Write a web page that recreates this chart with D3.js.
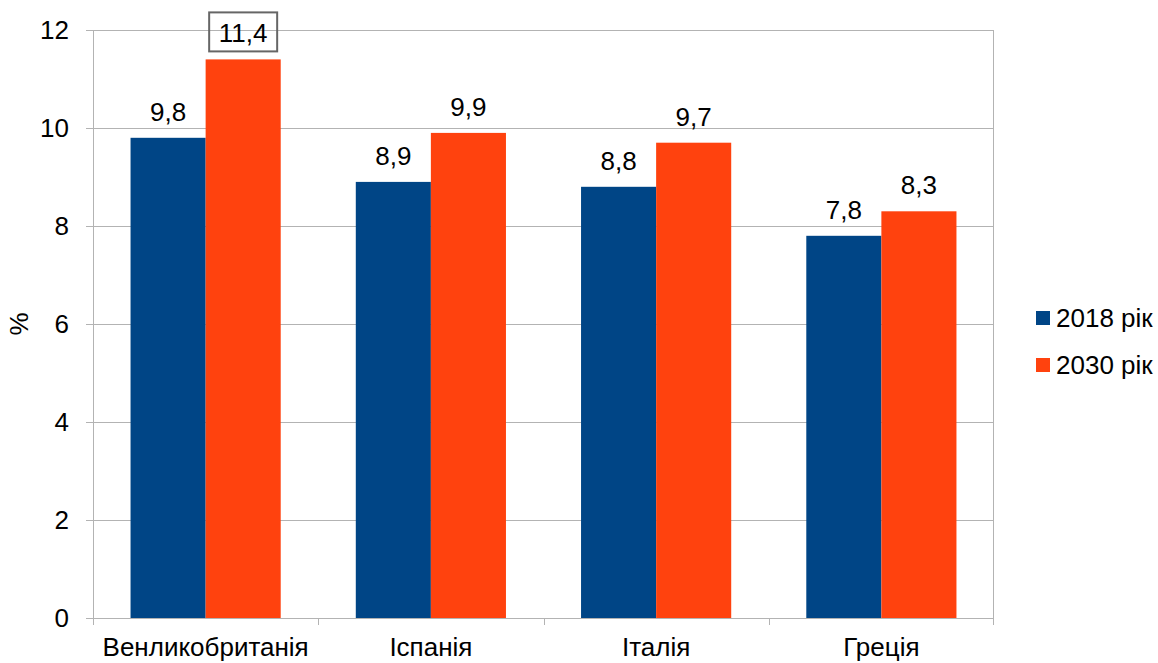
<!DOCTYPE html>
<html><head><meta charset="utf-8">
<script src="https://cdn.jsdelivr.net/npm/d3@7"></script>
<style>
html,body{margin:0;padding:0;background:#fff;}
svg text{font-family:"Liberation Sans",Arial,sans-serif;fill:#000;}
</style></head>
<body><svg id="c" width="1158" height="663"></svg>
<script>
const categories = ["Венликобританія","Іспанія","Італія","Греція"];
const seriesNames = ["2018 рік","2030 рік"];
const values2018 = [9.8, 8.9, 8.8, 7.8];
const values2030 = [11.4, 9.9, 9.7, 8.3];
const yTicks = [0,2,4,6,8,10,12];
const colors = ["#004586","#ff420e"];

const svg = d3.select("#c");
const L=93, R=994, T=30, B=618;
const x = d3.scaleBand().domain(categories).range([L,R]).paddingInner(0).paddingOuter(0);
const y = d3.scaleLinear().domain([0,12]).range([B,T]);
const sub = d3.scaleBand().domain(seriesNames).range([0,x.bandwidth()]).paddingInner(0).paddingOuter(0.5);
const fs = 26;

// grid
svg.append("g").selectAll("line").data(yTicks).join("line")
  .attr("x1",L-7).attr("x2",R).attr("y1",d=>y(d)+0.5).attr("y2",d=>y(d)+0.5)
  .attr("stroke","#b3b3b3").attr("stroke-width",1);
// y axis line & right border
svg.append("line").attr("x1",L+0.5).attr("x2",L+0.5).attr("y1",T).attr("y2",B+7).attr("stroke","#b3b3b3");
svg.append("line").attr("x1",R-0.5).attr("x2",R-0.5).attr("y1",T).attr("y2",B+7).attr("stroke","#b3b3b3");
// category boundary ticks
const bounds = categories.slice(1).map(c=>x(c));
svg.append("g").selectAll("line").data(bounds).join("line")
  .attr("x1",d=>Math.round(d)+0.5).attr("x2",d=>Math.round(d)+0.5).attr("y1",B).attr("y2",B+7)
  .attr("stroke","#b3b3b3");

// y tick labels
svg.append("g").selectAll("text").data(yTicks).join("text")
  .attr("x",69).attr("y",d=>y(d)+9).attr("text-anchor","end").attr("font-size",fs).text(d=>d);

// y axis title
svg.append("text").attr("transform","translate(28,324) rotate(-90)").attr("text-anchor","middle")
  .attr("font-size",fs).text("%");

// bars
const series = [values2018, values2030];
series.forEach((vals,si)=>{
  const g = svg.append("g");
  g.selectAll("rect").data(categories).join("rect")
    .attr("x",(c)=>x(c)+sub(seriesNames[si]))
    .attr("width",sub.bandwidth())
    .attr("y",(c,i)=>y(vals[i]))
    .attr("height",(c,i)=>y(0)-y(vals[i]))
    .attr("fill",colors[si]);
  g.selectAll("text").data(categories).join("text")
    .attr("x",c=>x(c)+sub(seriesNames[si])+sub.bandwidth()/2)
    .attr("y",(c,i)=>y(vals[i])-17)
    .attr("text-anchor","middle").attr("font-size",fs)
    .text((c,i)=>String(vals[i]).replace(".",","));
});

// box around max label
const maxV = d3.max(values2030), mi = values2030.indexOf(maxV);
const cx = x(categories[mi])+sub(seriesNames[1])+sub.bandwidth()/2;
svg.append("rect").attr("x",cx-34).attr("y",y(maxV)-47).attr("width",68).attr("height",39)
  .attr("fill","none").attr("stroke","#666").attr("stroke-width",2);

// category labels
svg.append("g").selectAll("text").data(categories).join("text")
  .attr("x",c=>x(c)+x.bandwidth()/2).attr("y",656).attr("text-anchor","middle")
  .attr("font-size",fs).text(c=>c);

// legend
const lg = svg.append("g");
seriesNames.forEach((n,i)=>{
  lg.append("rect").attr("x",1036).attr("y",311+i*47).attr("width",14).attr("height",14).attr("fill",colors[i]);
  lg.append("text").attr("x",1056).attr("y",327+i*47).attr("font-size",fs).text(n);
});
</script></body></html>
